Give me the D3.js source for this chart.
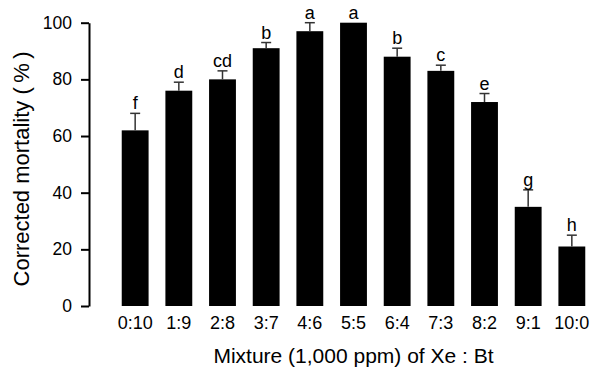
<!DOCTYPE html>
<html>
<head>
<meta charset="utf-8">
<script src="https://cdn.jsdelivr.net/npm/d3@7"></script>
<style>
  body { margin: 0; background: #fff; }
  svg { font-family: Arial, "Liberation Sans", sans-serif; }
</style>
</head>
<body>
<svg width="596" height="367"></svg>
<script>
// ratios of Xe : Bt
var categories = ["0:10", "1:9", "2:8", "3:7", "4:6", "5:5", "6:4", "7:3", "8:2", "9:1", "10:0"];
var mortality = [62, 76, 80, 91, 97, 100, 88, 83, 72, 35, 21];
var errors = [6, 3, 3, 2, 3, 0, 3, 2, 3, 6, 4];
var letters = ["f", "d", "cd", "b", "a", "a", "b", "c", "e", "g", "h"];
var yTicks = [0, 20, 40, 60, 80, 100];

var svg = d3.select("svg");

var x = d3.scaleBand()
  .domain(categories)
  .range([113, 594])
  .paddingInner(0.385)
  .paddingOuter(0.2);

var y = d3.scaleLinear().domain([0, 100]).range([306, 22.7]);

var data = categories.map(function (c, i) {
  return { cat: c, value: mortality[i], err: errors[i], letter: letters[i] };
});

// bars
svg.append("g")
  .selectAll("rect")
  .data(data)
  .enter().append("rect")
  .attr("x", function (d) { return x(d.cat); })
  .attr("y", function (d) { return y(d.value); })
  .attr("width", x.bandwidth())
  .attr("height", function (d) { return y(0) - y(d.value); })
  .attr("fill", "#000");

// error bars
var eb = svg.append("g")
  .attr("stroke", "#333")
  .attr("stroke-width", 1.5)
  .selectAll("g")
  .data(data.filter(function (d) { return d.err > 0; }))
  .enter().append("g");

eb.append("line")
  .attr("x1", function (d) { return x(d.cat) + x.bandwidth() / 2; })
  .attr("x2", function (d) { return x(d.cat) + x.bandwidth() / 2; })
  .attr("y1", function (d) { return y(d.value); })
  .attr("y2", function (d) { return y(d.value + d.err); });

eb.append("line")
  .attr("x1", function (d) { return x(d.cat) + x.bandwidth() / 2 - 5; })
  .attr("x2", function (d) { return x(d.cat) + x.bandwidth() / 2 + 5; })
  .attr("y1", function (d) { return y(d.value + d.err); })
  .attr("y2", function (d) { return y(d.value + d.err); });

// significance letters
svg.append("g")
  .attr("font-size", 18)
  .attr("text-anchor", "middle")
  .selectAll("text")
  .data(data)
  .enter().append("text")
  .attr("x", function (d) { return x(d.cat) + x.bandwidth() / 2; })
  .attr("y", function (d) { return y(d.value + d.err) - 4; })
  .text(function (d) { return d.letter; });

// y axis
var yAxis = svg.append("g")
  .attr("transform", "translate(89,0)")
  .call(d3.axisLeft(y).tickValues(yTicks).tickSize(8).tickPadding(9).tickSizeOuter(0));
yAxis.select(".domain").attr("stroke-width", 2);
yAxis.selectAll(".tick line").attr("stroke-width", 2);
yAxis.selectAll("text").attr("font-size", 17.5).attr("font-family", null).attr("fill", "#000");

// x axis labels, no axis line
var xAxis = svg.append("g")
  .attr("transform", "translate(0,306)")
  .call(d3.axisBottom(x).tickSize(0).tickPadding(10));
xAxis.select(".domain").remove();
xAxis.selectAll("text").attr("font-size", 18).attr("font-family", null).attr("fill", "#000");

// axis titles
svg.append("text")
  .attr("x", (x.range()[0] + x.range()[1]) / 2)
  .attr("y", 363)
  .attr("text-anchor", "middle")
  .attr("font-size", 21)
  .text("Mixture (1,000 ppm) of Xe : Bt");

svg.append("text")
  .attr("transform", "translate(29,169) rotate(-90)")
  .attr("text-anchor", "middle")
  .attr("font-size", 22)
  .text("Corrected mortality (\u2009%\u2009)");
</script>
</body>
</html>
